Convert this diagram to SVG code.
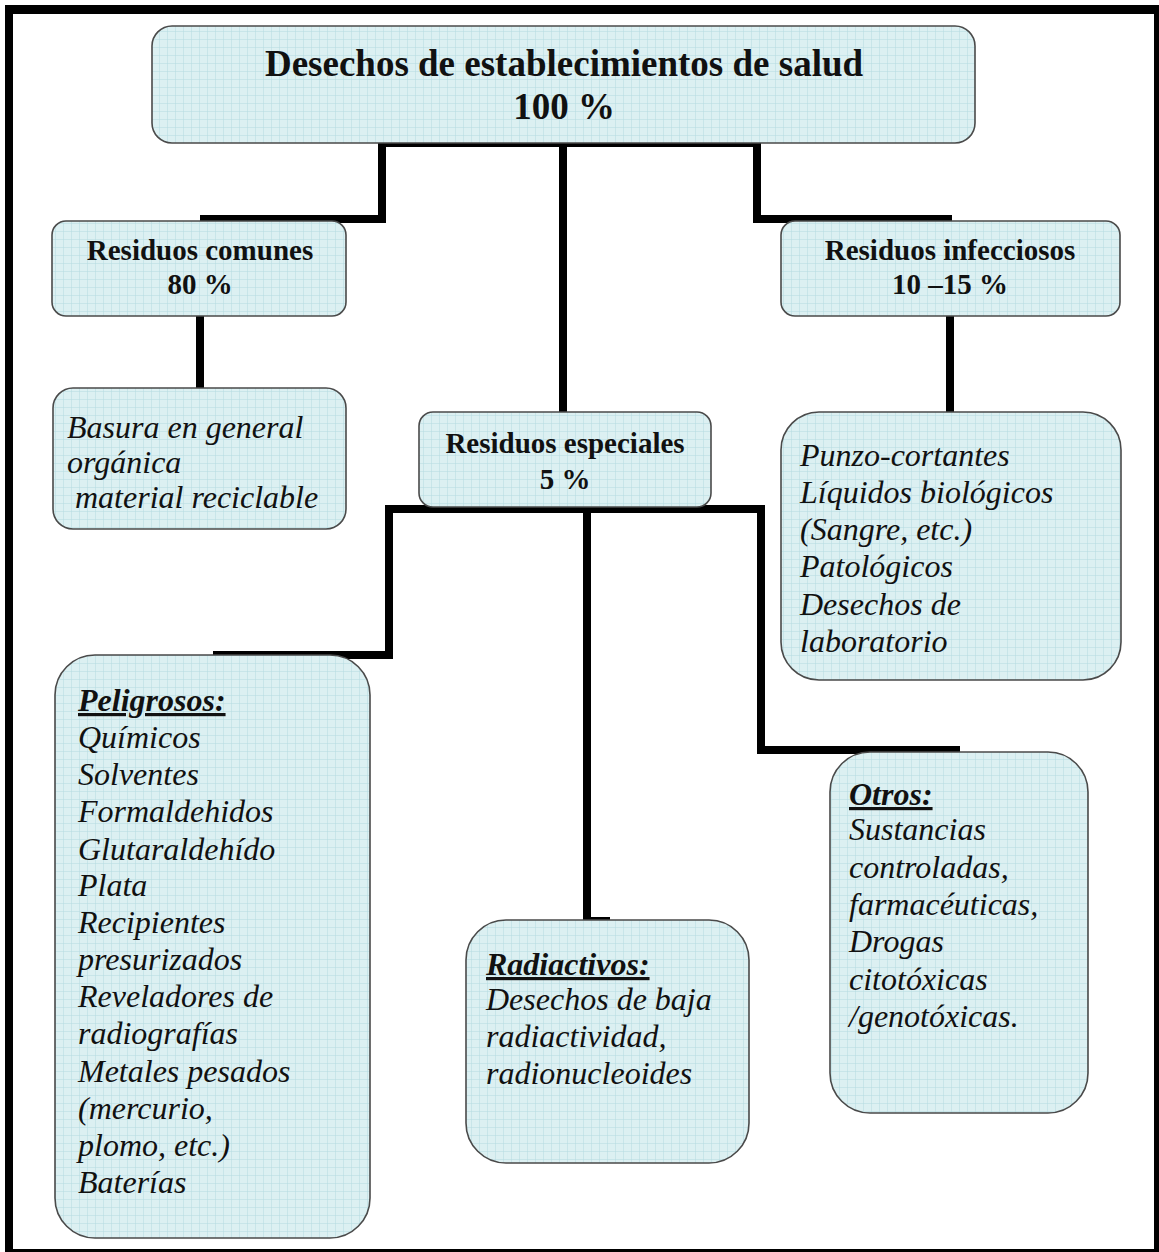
<svg xmlns="http://www.w3.org/2000/svg" width="1159" height="1252" viewBox="0 0 1159 1252">
  <defs>
    <pattern id="grid" width="8" height="8" patternUnits="userSpaceOnUse">
      <rect width="8" height="8" fill="#dcf0f2"/>
      <path d="M8 0V8M0 8H8" stroke="#b4dbe1" stroke-width="1" fill="none"/>
    </pattern>
    <style>
      .box { fill: url(#grid); stroke: #4a4a4a; stroke-width: 1.6; }
      .wire { fill: none; stroke: #000; stroke-width: 8; stroke-linejoin: miter; stroke-linecap: butt; }
      .head { font-family: "Liberation Serif", "Times New Roman", serif; font-weight: bold; fill: #111; text-anchor: middle; }
      .item { font-family: "Liberation Serif", "Times New Roman", serif; font-style: italic; font-size: 32px; fill: #111; }
      .cap { font-weight: bold; text-decoration: underline; }
    </style>
  </defs>

  <rect width="1159" height="1252" fill="#fff"/>

  <!-- page frame -->
  <g id="frame" fill="#000">
    <rect x="5" y="5" width="1154" height="9"/>
    <rect x="5" y="5" width="8" height="1247"/>
    <rect x="1154" y="5" width="5" height="1247"/>
    <rect x="5" y="1249" width="1154" height="3"/>
  </g>

  <!-- connectors -->
  <g id="connectors">
    <path class="wire" d="M200 219H382V143H757V219H952"/>
    <path class="wire" d="M563 143V412"/>
    <path class="wire" d="M200 316V388"/>
    <path class="wire" d="M950 316V412"/>
    <path class="wire" d="M213 655H389V509H761V750H960"/>
    <path class="wire" d="M587 509V921H610"/>
  </g>

  <g id="node-total">
    <rect class="box" x="152" y="26" width="823" height="117" rx="20"/>
    <text class="head" x="564" y="76" font-size="37">Desechos de establecimientos de salud</text>
    <text class="head" x="564" y="119" font-size="37">100 %</text>
  </g>

  <g id="node-comunes">
    <rect class="box" x="52" y="221" width="294" height="95" rx="14"/>
    <text class="head" x="200" y="260" font-size="29">Residuos comunes</text>
    <text class="head" x="200" y="294" font-size="29">80 %</text>
  </g>

  <g id="node-infecciosos">
    <rect class="box" x="781" y="221" width="339" height="95" rx="14"/>
    <text class="head" x="950" y="260" font-size="29">Residuos infecciosos</text>
    <text class="head" x="950" y="294" font-size="29">10 –15 %</text>
  </g>

  <g id="node-basura">
    <rect class="box" x="53" y="388" width="293" height="141" rx="20"/>
    <text class="item" x="67" y="438">Basura en general</text>
    <text class="item" x="67" y="473">orgánica</text>
    <text class="item" x="67" y="508" xml:space="preserve"> material reciclable</text>
  </g>

  <g id="node-especiales">
    <rect class="box" x="419" y="412" width="292" height="95" rx="14"/>
    <text class="head" x="565" y="453" font-size="29">Residuos especiales</text>
    <text class="head" x="565" y="489" font-size="29">5 %</text>
  </g>

  <g id="node-infecciosos-lista">
    <rect class="box" x="781" y="412" width="340" height="268" rx="38"/>
    <text class="item" x="800" y="466">Punzo-cortantes</text>
    <text class="item" x="800" y="503">Líquidos biológicos</text>
    <text class="item" x="800" y="540">(Sangre, etc.)</text>
    <text class="item" x="800" y="577">Patológicos</text>
    <text class="item" x="800" y="615">Desechos de</text>
    <text class="item" x="800" y="652">laboratorio</text>
  </g>

  <g id="node-peligrosos">
    <rect class="box" x="55" y="655" width="315" height="583" rx="40"/>
    <text class="item cap" x="78" y="711">Peligrosos:</text>
    <text class="item" x="78" y="748">Químicos</text>
    <text class="item" x="78" y="785">Solventes</text>
    <text class="item" x="78" y="822">Formaldehidos</text>
    <text class="item" x="78" y="860">Glutaraldehído</text>
    <text class="item" x="78" y="896">Plata</text>
    <text class="item" x="78" y="933">Recipientes</text>
    <text class="item" x="78" y="970">presurizados</text>
    <text class="item" x="78" y="1007">Reveladores de</text>
    <text class="item" x="78" y="1044">radiografías</text>
    <text class="item" x="78" y="1082">Metales pesados</text>
    <text class="item" x="78" y="1119">(mercurio,</text>
    <text class="item" x="78" y="1156">plomo, etc.)</text>
    <text class="item" x="78" y="1193">Baterías</text>
  </g>

  <g id="node-radiactivos">
    <rect class="box" x="466" y="920" width="283" height="243" rx="40"/>
    <text class="item cap" x="486" y="975">Radiactivos:</text>
    <text class="item" x="486" y="1010">Desechos de baja</text>
    <text class="item" x="486" y="1047">radiactividad,</text>
    <text class="item" x="486" y="1084">radionucleoides</text>
  </g>

  <g id="node-otros">
    <rect class="box" x="830" y="752" width="258" height="361" rx="40"/>
    <text class="item cap" x="849" y="805">Otros:</text>
    <text class="item" x="849" y="840">Sustancias</text>
    <text class="item" x="849" y="878">controladas,</text>
    <text class="item" x="849" y="915">farmacéuticas,</text>
    <text class="item" x="849" y="952">Drogas</text>
    <text class="item" x="849" y="990">citotóxicas</text>
    <text class="item" x="849" y="1027">/genotóxicas.</text>
  </g>
</svg>
